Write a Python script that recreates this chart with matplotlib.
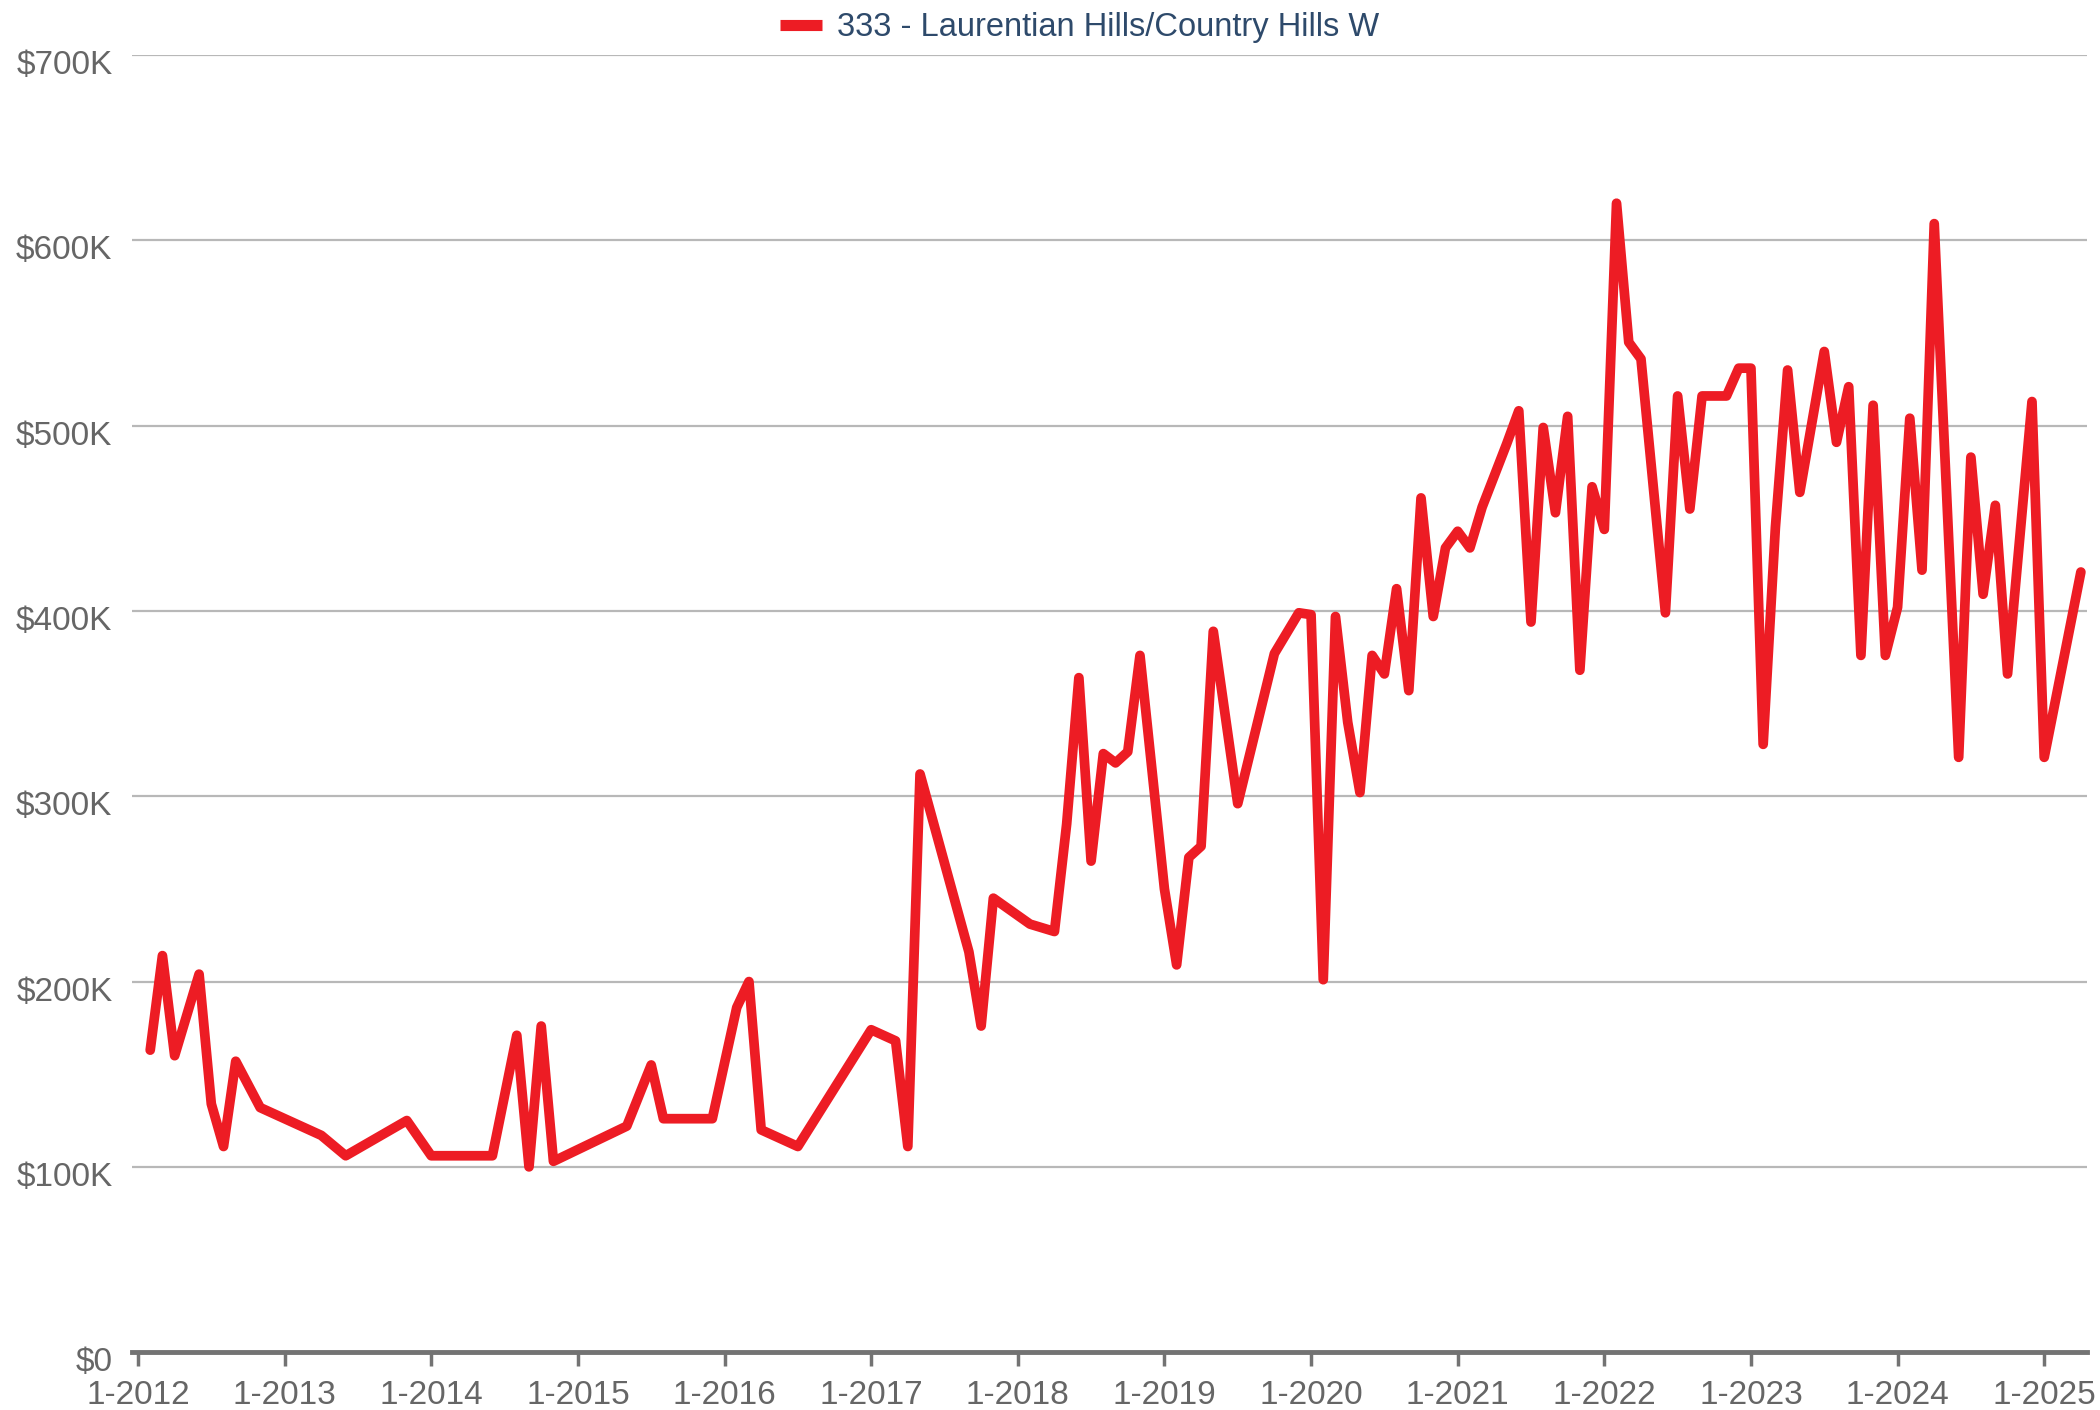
import matplotlib.pyplot as plt
from matplotlib.transforms import ScaledTranslation
import numpy as np

# Monthly median price series, 333 - Laurentian Hills/Country Hills W
# (months with no sales are simply absent; the line joins across them)
months = ['2012-02', '2012-03', '2012-04', '2012-06', '2012-07', '2012-08', '2012-09', '2012-11',
          '2013-04', '2013-06', '2013-11', '2014-01', '2014-06', '2014-08', '2014-09', '2014-10',
          '2014-11', '2015-05', '2015-07', '2015-08', '2015-12', '2016-02', '2016-03', '2016-04',
          '2016-07', '2017-01', '2017-03', '2017-04', '2017-05', '2017-09', '2017-10', '2017-11',
          '2018-02', '2018-03', '2018-04', '2018-05', '2018-06', '2018-07', '2018-08', '2018-09',
          '2018-10', '2018-11', '2019-01', '2019-02', '2019-03', '2019-04', '2019-05', '2019-07',
          '2019-10', '2019-12', '2020-01', '2020-02', '2020-03', '2020-04', '2020-05', '2020-06',
          '2020-07', '2020-08', '2020-09', '2020-10', '2020-11', '2020-12', '2021-01', '2021-02',
          '2021-03', '2021-05', '2021-06', '2021-07', '2021-08', '2021-09', '2021-10', '2021-11',
          '2021-12', '2022-01', '2022-02', '2022-03', '2022-04', '2022-06', '2022-07', '2022-08',
          '2022-09', '2022-11', '2022-12', '2023-01', '2023-02', '2023-03', '2023-04', '2023-05',
          '2023-07', '2023-08', '2023-09', '2023-10', '2023-11', '2023-12', '2024-01', '2024-02',
          '2024-03', '2024-04', '2024-06', '2024-07', '2024-08', '2024-09', '2024-10', '2024-12',
          '2025-01', '2025-04']
prices = [163, 214, 160, 204, 134, 111, 157, 132,
          117, 106, 125, 106, 106, 171, 100, 176,
          103, 122, 155, 126, 126, 186, 200, 120,
          111, 174, 168, 111, 312, 216, 176, 245,
          231, 229, 227, 285, 364, 265, 323, 318,
          324, 376, 250, 209, 267, 273, 389, 296,
          377, 399, 398, 201, 397, 340, 302, 376,
          366, 412, 357, 461, 397, 434, 443, 434,
          456, 490, 508, 394, 499, 453, 505, 368,
          467, 444, 620, 545, 536, 399, 516, 455,
          516, 516, 531, 531, 328, 445, 530, 464,
          540, 491, 521, 376, 511, 376, 402, 504,
          422, 609, 321, 483, 409, 457, 366, 513,
          321, 421]
series_name = '333 - Laurentian Hills/Country Hills W'

years = list(range(2012, 2026))
tick_labels = ['1-%d' % y for y in years]
y_ticks = [0, 100, 200, 300, 400, 500, 600, 700]

# month index counted from Jan 2012
x = np.array([(int(m[:4]) - 2012) * 12 + int(m[5:]) - 1 for m in months])
y = np.array(prices) * 1000

plt.rcParams['font.family'] = ['Liberation Sans', 'DejaVu Sans']

fig = plt.figure(figsize=(21, 14.1), dpi=100)
ax = fig.add_axes([0.0628, 0.041, 0.931, 0.920])

ax.plot(x, y, color='#ed1c24', linewidth=7, solid_joinstyle='round',
        solid_capstyle='round', label=series_name, zorder=3)

# axes
ax.set_xlim(-0.5, 159.5)
ax.set_ylim(0, 700000)
ax.set_xticks([(yr - 2012) * 12 for yr in years])
ax.set_xticklabels(tick_labels)
ax.set_yticks([v * 1000 for v in y_ticks])
ax.set_yticklabels(['$0' if v == 0 else '$%dK' % v for v in y_ticks])

ax.grid(axis='y', color='#b8b8b8', linewidth=1.6, zorder=0)
ax.set_axisbelow(True)
for side in ['top', 'right', 'left']:
    ax.spines[side].set_visible(False)
ax.spines['bottom'].set_color('#737373')
ax.spines['bottom'].set_linewidth(3.5)
ax.spines['bottom'].set_zorder(4)

ax.tick_params(axis='x', colors='#737373', length=10, width=2.5, pad=10,
               labelsize=24, labelcolor='#666666')
ax.tick_params(axis='y', length=0, pad=14, labelsize=24, labelcolor='#666666')

# y labels sit a little below their gridlines in the original
shift = ScaledTranslation(0, -5 / 72, fig.dpi_scale_trans)
for lbl in ax.get_yticklabels():
    lbl.set_transform(lbl.get_transform() + shift)

# legend on top
leg = fig.legend(loc='upper center', bbox_to_anchor=(0.514, 1.012), frameon=False,
                 fontsize=23.5, labelcolor='#2e4a6b', handlelength=1.3, handletextpad=0.45)
for h in leg.get_lines():
    h.set_solid_capstyle('butt')
    h.set_linewidth(8)

plt.savefig('out.png', dpi=100)
